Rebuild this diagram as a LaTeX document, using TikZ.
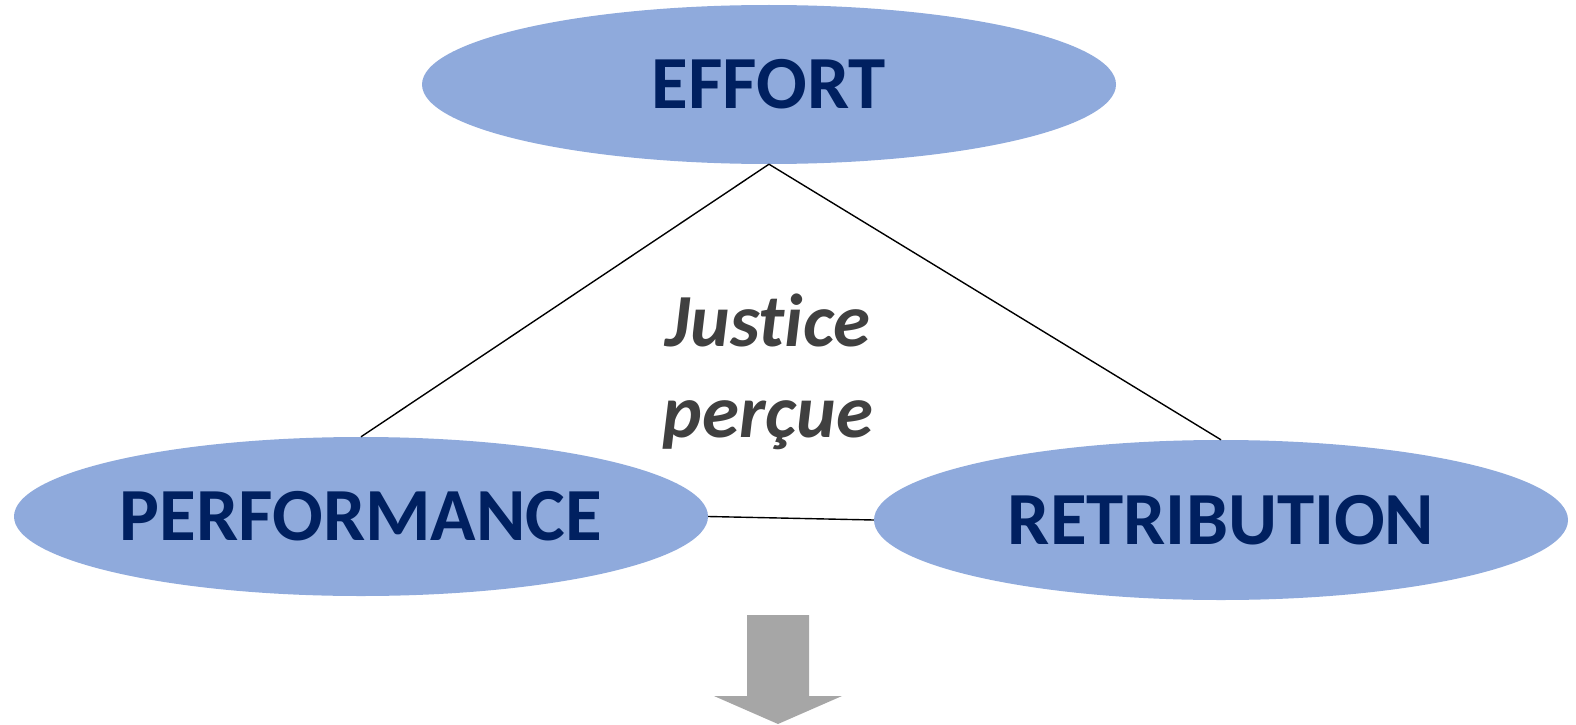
\documentclass[tikz,border=0pt]{standalone}
\usepackage{fontspec}
\setmainfont{Carlito}[Ligatures=NoCommon]
\usetikzlibrary{shapes.geometric}
\definecolor{ellfill}{HTML}{8FAADC}
\definecolor{navy}{HTML}{002060}
\definecolor{greytext}{HTML}{404040}
\definecolor{arrowgrey}{HTML}{A6A6A6}
\tikzset{
  oval/.style={ellipse, fill=ellfill, draw=none, inner sep=0pt, font=\fontsize{75}{90}\selectfont\bfseries, text=navy},
  link/.style={draw=black, line width=1.4pt},
}
\begin{document}
\begin{tikzpicture}[x=1pt,y=-1pt]
\useasboundingbox (0,0) rectangle (1576,725);
\node[oval, minimum width=694pt, minimum height=159pt] (effort) at (769,84.5) {EFFORT};
\node[oval, minimum width=694pt, minimum height=159pt] (perf) at (361,516.5) {PERFORMANCE};
\node[oval, minimum width=694pt, minimum height=160pt] (retr) at (1221,520) {RETRIBUTION};
\draw[link] (effort.south) -- (perf.north);
\draw[link] (effort.south) -- (retr.north);
\draw[link] (perf.east) -- (retr.west);
\node[align=center, text=greytext, font=\fontsize{75}{91}\selectfont\bfseries\itshape] (justice) at (768,372) {Justice\\perçue};
\fill[arrowgrey] (747,615) -- (809,615) -- (809,696) -- (842,696) -- (778,724) -- (714,696) -- (747,696) -- cycle;
\end{tikzpicture}
\end{document}
